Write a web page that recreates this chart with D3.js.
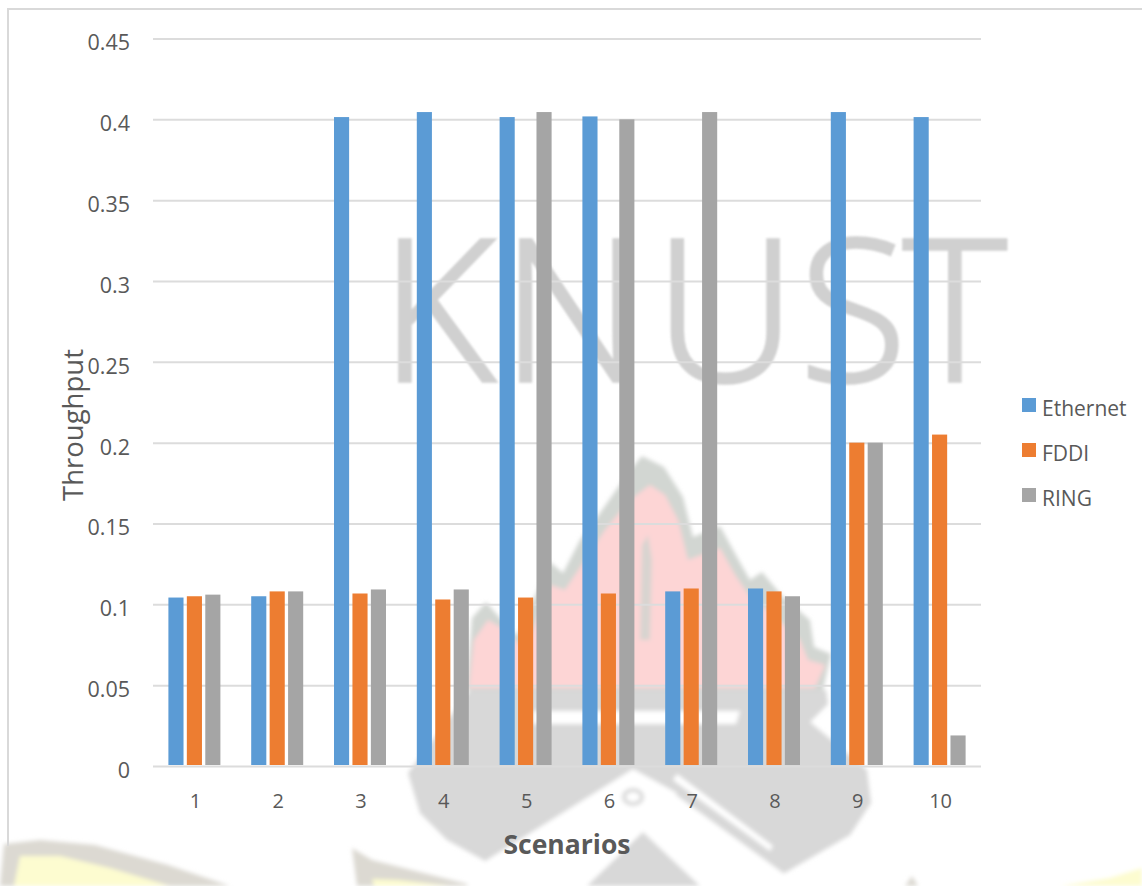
<!DOCTYPE html>
<html><head><meta charset="utf-8">
<script src="https://cdn.jsdelivr.net/npm/d3@7/dist/d3.min.js"></script>
<style>html,body{margin:0;padding:0;background:#fff;overflow:hidden}svg{display:block}</style>
</head><body><svg id="c" width="1142" height="886"></svg>
<script>
// ---- chart data ----
const scenarios = ["1","2","3","4","5","6","7","8","9","10"];
const ethernet = [0.1042,0.105,0.4014,0.4045,0.4014,0.4018,0.108,0.1098,0.4045,0.4014];
const fddi     = [0.105,0.108,0.1067,0.103,0.1042,0.1067,0.1098,0.108,0.2,0.205];
const ring     = [0.106,0.108,0.1092,0.1092,0.4045,0.4,0.4045,0.105,0.2,0.0189];
const seriesNames = ["Ethernet","FDDI","RING"];
const seriesValues = [ethernet,fddi,ring];
const seriesColors = ["#5b9bd5","#ed7d31","#a5a5a5"];
const yTicks = [0,0.05,0.1,0.15,0.2,0.25,0.3,0.35,0.4,0.45];
const xTitle = "Scenarios", yTitle = "Throughput", watermarkWord = "KNUST";

// ---- background crest (decorative, not data) ----
const crestBody = "M470,690 L826,690 L828,704 L810,722 L867,770 L871,803 L850,835 L783,874 L673,793 L640,830 L487,862 L447,840 L420,813 L408,773 Z";
const crestFlameRim = "M466,690 L472,618 L486,602 L500,618 L517,636 L550,562 L563,573 L580,540 L600,513 L630,470 L642,456 L664,467 L683,497 L693,537 L720,526 L737,557 L750,580 L762,572 L783,597 L810,620 L814,647 L831,654 L823,690 Z";
const crestFlame = "M469,688 L474,640 L488,620 L505,630 L525,650 L550,585 L565,590 L585,560 L605,530 L630,500 L650,485 L665,495 L678,520 L688,560 L720,548 L735,575 L752,600 L770,612 L800,640 L808,660 L825,665 L815,688 Z";
const crestGap = "M642,545 L648,535 L652,560 L650,640 L640,640 Z";
const crestWhite = ["M533,711 L740,711 L736,724 L533,724 Z",
  "M633,769 L677,793 L640,830 L587,886 L467,886 L487,860 Z",
  "M640,830 L673,793 L783,873 L795,886 L700,886 Z",
  "M677,774 L773,846 L770,851 L673,780 Z"];
const crestGrey = "M643,832 L700,886 L587,886 Z";
const bannerRims = ["M0,886 L4,844 L40,840 L95,845 L168,865 L230,886 Z","M352,848 L372,860 L475,886 L357,886 Z","M905,886 L912,876 L918,886 Z"];
const bannerFills = ["M14,886 L20,856 L60,856 L110,868 L170,886 Z","M372,879 L398,880 L450,886 L374,886 Z","M1060,886 L1110,878 L1142,868 L1142,886 Z"];

const svg = d3.select("#c");
const defs = svg.append("defs");
defs.append("filter").attr("id","b").attr("x","-5%").attr("y","-5%").attr("width","110%").attr("height","110%")
  .append("feGaussianBlur").attr("stdDeviation",2);
defs.append("filter").attr("id","t").append("feGaussianBlur").attr("stdDeviation",0.9);

const FONT = "'Open Sans','Noto Sans',sans-serif";
const TXT = "#595959";

// watermark
const w = svg.append("g").attr("filter","url(#b)");
w.selectAll(".r").data(bannerRims).join("path").attr("d",d=>d).attr("fill","#dcd9d2");
w.selectAll(".f").data(bannerFills).join("path").attr("d",d=>d).attr("fill","#fdfcd0");
w.append("path").attr("d",crestFlameRim).attr("fill","#d2d6d2");
w.append("path").attr("d",crestBody).attr("fill","#d8d8d8");
w.append("path").attr("d",crestFlame).attr("fill","#fdd5d5");
w.append("path").attr("d",crestGap).attr("fill","#d8d4d0");
w.selectAll(".w").data(crestWhite).join("path").attr("d",d=>d).attr("fill","#fff");
w.append("path").attr("d",crestGrey).attr("fill","#d8d8d8");
w.append("ellipse").attr("cx",633).attr("cy",797).attr("rx",9).attr("ry",7).attr("fill","none").attr("stroke","#d8d8d8").attr("stroke-width",4);
svg.append("text").text(watermarkWord)
  .attr("x","380 501 654 799 903").attr("y",381)
  .attr("font-family","'Open Sans',sans-serif").attr("font-weight",300).attr("font-size",198)
  .attr("fill","#d0d0d0").attr("stroke","#d0d0d0").attr("stroke-width",3.5).attr("filter","url(#t)");

// frame
svg.append("path").attr("d","M8,846 L8,9 L1142,9").attr("fill","none").attr("stroke","#d9d9d9").attr("stroke-width",2);

// scales
const x0 = d3.scaleBand().domain(scenarios).range([153,981]);
const x1 = d3.scaleBand().domain(seriesNames).range([15.4,67.4]).paddingInner(0.18);
const y = d3.scaleLinear().domain([0,0.45]).range([766,38.5]);

// y axis + grid
const gy = svg.append("g").attr("transform","translate(153,0)")
  .call(d3.axisLeft(y).tickValues(yTicks).tickFormat(d3.format("~g")).tickSize(-828));
gy.select(".domain").remove();
gy.selectAll("line").attr("stroke","#dcdcdc").attr("stroke-width",2);
gy.selectAll("text").attr("x",-23).attr("dy","0.53em").attr("font-family",FONT).attr("font-size",21.5).attr("fill",TXT);

// bars
const groups = svg.append("g").selectAll("g").data(scenarios).join("g")
  .attr("transform",d=>`translate(${x0(d)},0)`);
groups.selectAll("rect").data((d,i)=>seriesNames.map((n,k)=>({n,v:seriesValues[k][i],c:seriesColors[k]}))).join("rect")
  .attr("x",d=>x1(d.n)).attr("width",x1.bandwidth())
  .attr("y",d=>y(d.v)).attr("height",d=>765-y(d.v)).attr("fill",d=>d.c);

// x axis
const gx = svg.append("g").attr("transform","translate(0,766)")
  .call(d3.axisBottom(x0).tickSize(0));
gx.select(".domain").remove();
gx.selectAll("text").attr("y",36).attr("dy","0.32em").attr("dx",1).attr("font-family",FONT).attr("font-size",20).attr("fill",TXT);

// titles
svg.append("text").text(xTitle).attr("x",567).attr("y",854).attr("text-anchor","middle")
  .attr("font-family",FONT).attr("font-weight",700).attr("font-size",26.5).attr("fill",TXT);
svg.append("text").text(yTitle).attr("transform","translate(83,425) rotate(-90)").attr("text-anchor","middle")
  .attr("font-family",FONT).attr("font-size",27.5).attr("fill",TXT);

// legend
const legendY = d3.scalePoint().domain(seriesNames).range([405,495]);
const lg = svg.append("g").selectAll("g").data(seriesNames).join("g");
lg.append("rect").attr("x",1022).attr("y",d=>legendY(d)-7).attr("width",14).attr("height",14).attr("fill",(d,i)=>seriesColors[i]);
lg.append("text").text(d=>d).attr("x",1042).attr("y",d=>legendY(d)+11)
  .attr("font-family",FONT).attr("font-size",21).attr("fill",TXT);
</script></body></html>
